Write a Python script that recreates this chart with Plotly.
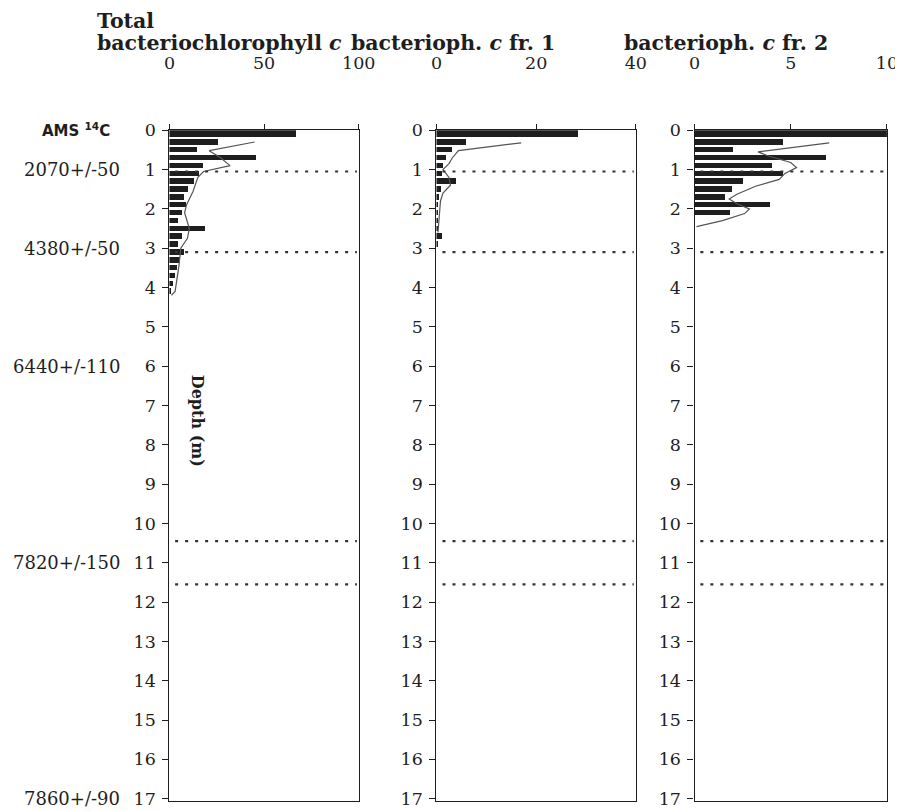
import plotly.graph_objects as go

# ---------------- data ----------------
depth_ticks = list(range(0, 18))

p1_bar_depth = [0.1, 0.3, 0.5, 0.7, 0.9, 1.1, 1.3, 1.5, 1.7, 1.9, 2.1, 2.3, 2.5, 2.7, 2.9, 3.1, 3.3, 3.5, 3.7, 3.9, 4.1]
p1_bar_val = [67, 26, 15, 46, 18, 16, 13, 10, 8, 9, 7, 5, 19, 7, 5, 8, 6, 4, 3, 2, 1]
p1_line_depth = [0.3, 0.52, 0.7, 0.9, 1.05, 1.2, 1.55, 1.9, 2.1, 2.5, 2.75, 3.0, 3.45, 3.8, 4.1, 4.2]
p1_line_val = [45, 21, 27, 32, 18, 15, 12.5, 9, 8, 10.5, 9.5, 6, 5, 4, 3, 1]

p2_bar_depth = [0.1, 0.3, 0.5, 0.7, 0.9, 1.1, 1.3, 1.5, 1.7, 1.9, 2.1, 2.3, 2.5, 2.7, 2.9]
p2_bar_val = [28.6, 6, 3.3, 2, 1.5, 1.2, 4, 1.0, 0.6, 0.5, 0.4, 0.4, 0.4, 1.2, 0.4]
p2_line_depth = [0.32, 0.52, 0.7, 0.85, 1.0, 1.2, 1.4, 1.6, 1.8, 2.2, 2.6]
p2_line_val = [17, 4.4, 3.2, 2.5, 1.3, 2.5, 2.8, 1.3, 0.8, 0.5, 0.3]

p3_bar_depth = [0.1, 0.3, 0.5, 0.7, 0.9, 1.1, 1.3, 1.5, 1.7, 1.9, 2.1]
p3_bar_val = [10, 4.6, 2.0, 6.8, 4.0, 4.6, 2.5, 1.9, 1.55, 3.9, 1.8]
p3_line_depth = [0.32, 0.55, 0.65, 0.82, 0.95, 1.1, 1.25, 1.42, 1.63, 1.75, 1.87, 2.0, 2.12, 2.3, 2.45]
p3_line_val = [7.0, 3.3, 3.8, 5.0, 5.3, 4.7, 4.4, 3.2, 2.2, 1.8, 2.2, 2.85, 2.6, 1.45, 0.1]

dashed_depths = [1.05, 3.1, 10.45, 11.55]

age_labels = ["2070+/-50", "4380+/-50", "6440+/-110", "7820+/-150", "7860+/-90"]
age_depths = [1, 3, 6, 11, 17]

panel_titles = ["bacteriochlorophyll <i>c</i>", "bacterioph. <i>c</i> fr. 1", "bacterioph. <i>c</i> fr. 2"]
x_ranges = [[0, 100], [0, 40], [0, 10]]
x_ticks = [[0, 50, 100], [0, 20, 40], [0, 5, 10]]

# ---------------- layout constants ----------------
W, H = 903, 811
SERIF = "DejaVu Serif, Liberation Serif, serif"
INK = "#1e1e1e"
clamp = lambda v: min(1.0, max(0.0, v))
# target screen pixel -> paper fraction (compensating page offset / scaling)
px_x = lambda v: clamp((v - 12) / 0.978 / W)
px_y = lambda v: clamp(1 - (v - 18) / 0.986 / H)

domains = [[168, 358], [436, 636], [695, 888]]
y_dom = [px_y(807), px_y(131)]
y_range = [17.07, 0]

fig = go.Figure()

series = [
    (p1_bar_depth, p1_bar_val, p1_line_depth, p1_line_val),
    (p2_bar_depth, p2_bar_val, p2_line_depth, p2_line_val),
    (p3_bar_depth, p3_bar_val, p3_line_depth, p3_line_val),
]

for i, (bd, bv, ld, lv) in enumerate(series):
    xa = "x" if i == 0 else f"x{i+1}"
    ya = "y" if i == 0 else f"y{i+1}"
    widths = [0.18 if d == bd[0] else 0.14 for d in bd]
    fig.add_trace(go.Bar(x=bv, y=bd, orientation="h", width=widths,
                         marker=dict(color=INK, line=dict(width=0)),
                         xaxis=xa, yaxis=ya, showlegend=False))
    fig.add_trace(go.Scatter(x=lv, y=ld, mode="lines",
                             line=dict(color="#555555", width=1.2),
                             xaxis=xa, yaxis=ya, showlegend=False))
    for d in dashed_depths:
        fig.add_shape(type="line", xref=f"{xa} domain", yref=ya,
                      x0=0.03, x1=0.99, y0=d, y1=d,
                      line=dict(color="#333333", width=2.2, dash="3px,7px"))

axis_common = dict(showline=True, linecolor=INK, linewidth=1.3, mirror=True,
                   ticks="outside", tickcolor=INK, showgrid=False, zeroline=False,
                   tickfont=dict(family=SERIF, size=17.5, color=INK))

layout_axes = {}
for i in range(3):
    xk = "xaxis" if i == 0 else f"xaxis{i+1}"
    yk = "yaxis" if i == 0 else f"yaxis{i+1}"
    ya = "y" if i == 0 else f"y{i+1}"
    xa = "x" if i == 0 else f"x{i+1}"
    layout_axes[xk] = dict(axis_common, domain=[px_x(domains[i][0]), px_x(domains[i][1])],
                           range=x_ranges[i], side="top", anchor=ya,
                           tickvals=x_ticks[i], ticklen=5, ticklabelstandoff=48)
    layout_axes[yk] = dict(axis_common, domain=y_dom, range=y_range, anchor=xa,
                           tickvals=depth_ticks, ticklen=6, ticklabelstandoff=3)

annotations = []
annotations.append(dict(text="<b>Total</b>", x=px_x(93), y=px_y(21), xref="paper", yref="paper",
                        xanchor="left", yanchor="middle", showarrow=False,
                        font=dict(family=SERIF, size=20.5, color=INK)))
title_x = [93, 348, 622]
for t, xp in zip(panel_titles, title_x):
    annotations.append(dict(text=f"<b>{t}</b>", x=px_x(xp), y=px_y(43), xref="paper", yref="paper",
                            xanchor="left", yanchor="middle", showarrow=False,
                            font=dict(family=SERIF, size=20.5, color=INK)))
annotations.append(dict(text="<b>AMS <sup>14</sup>C</b>", x=px_x(110), y=0, xref="paper", yref="y",
                        xanchor="right", yanchor="middle", showarrow=False,
                        font=dict(family="DejaVu Sans, Liberation Sans, sans-serif", size=15, color=INK)))
for lab, d in zip(age_labels, age_depths):
    annotations.append(dict(text=lab, x=px_x(120), y=d, xref="paper", yref="y",
                            xanchor="right", yanchor="middle", showarrow=False,
                            font=dict(family=SERIF, size=18, color=INK)))
annotations.append(dict(text="<b>Depth (m)</b>", x=px_x(197), y=px_y(424), xref="paper", yref="paper",
                        xanchor="center", yanchor="middle", textangle=90, showarrow=False,
                        font=dict(family=SERIF, size=16, color=INK)))

fig.update_layout(width=W, height=H, margin=dict(l=0, r=0, t=0, b=0),
                  paper_bgcolor="white", plot_bgcolor="white",
                  bargap=0, annotations=annotations, **layout_axes)

fig.write_html("out.html")
